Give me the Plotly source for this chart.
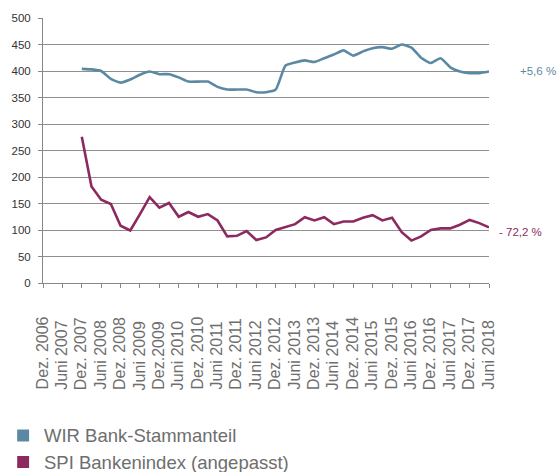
import plotly.graph_objects as go

# Half-yearly category labels (tick positions every 2 quarters, starting Dez. 2006)
tick_labels = ["Dez. 2006", "Juni 2007", "Dez. 2007", "Juni 2008", "Dez. 2008", "Juni 2009",
               "Dez.2009", "Juni 2010", "Dez. 2010", "Juni 2011", "Dez. 2011", "Juni 2012",
               "Dez. 2012", "Juni 2013", "Dez. 2013", "Juni 2014", "Dez. 2014", "Juni 2015",
               "Dez. 2015", "Juni 2016", "Dez. 2016", "Juni 2017", "Dez. 2017", "Juni 2018"]

# Quarterly observations from Dez. 2007 (quarter index 4) to Juni 2018 (quarter index 46)
quarter_index = list(range(4, 47))

wir_values = [404, 403, 400, 385, 378, 384, 393, 399, 394, 394, 388, 380, 380, 380, 370, 365,
              365, 365, 360, 360, 365, 410, 416, 420, 417, 424, 431, 439, 429, 437, 443, 445,
              442, 450, 444, 425, 415, 424, 407, 399, 396, 396, 399]

spi_values = [276, 182, 157, 149, 108, 99, 130, 162, 142, 151, 125, 134, 125, 130, 118, 88,
              89, 98, 81, 86, 100, 106, 111, 124, 118, 124, 111, 116, 116, 123, 128, 118,
              123, 96, 80, 88, 100, 103, 103, 110, 119, 113, 105]

series_names = ["WIR Bank-Stammanteil", "SPI Bankenindex (angepasst)"]
end_labels = ["+5,6 %", "- 72,2 %"]
colors = ["#5b89a3", "#8c2a5f"]

FONT = "Liberation Sans"

fig = go.Figure()
fig.add_trace(go.Scatter(x=quarter_index, y=wir_values, mode="lines", name=series_names[0],
                         line=dict(color=colors[0], width=2.6, shape="spline", smoothing=0.5),
                         showlegend=False, hoverinfo="skip"))
fig.add_trace(go.Scatter(x=quarter_index, y=spi_values, mode="lines", name=series_names[1],
                         line=dict(color=colors[1], width=2.6),
                         showlegend=False, hoverinfo="skip"))

tick_positions = [2 * i for i in range(len(tick_labels))]

annotations = []
# rotated category labels, bottom-aligned like the reference
for pos, lab in zip(tick_positions, tick_labels):
    annotations.append(dict(x=pos, xref="x", y=-0.411, yref="paper", text=lab,
                            textangle=-90, xanchor="center", yanchor="bottom",
                            showarrow=False, xshift=-1,
                            font=dict(family=FONT, size=16, color="#6e6e6e")))

# end-of-line percentage labels
annotations.append(dict(x=1.066, xref="paper", y=wir_values[-1], yref="y", text=end_labels[0],
                        xanchor="left", yanchor="middle", showarrow=False, yshift=1,
                        font=dict(family=FONT, size=11.5, color=colors[0])))
annotations.append(dict(x=1.019, xref="paper", y=spi_values[-1], yref="y", text=end_labels[1],
                        xanchor="left", yanchor="middle", showarrow=False, yshift=-5,
                        font=dict(family=FONT, size=11.5, color=colors[1])))

# legend built from squares + text
legend_y = [435.5, 462]
shapes = []
for name, col, py in zip(series_names, colors, legend_y):
    yp = (283 - py) / 265
    dy = 6 / 265
    shapes.append(dict(type="rect", xref="paper", yref="paper",
                       x0=(14 - 40) / 449, x1=(26 - 40) / 449, y0=yp - dy, y1=yp + dy,
                       fillcolor=col, line=dict(width=0)))
    annotations.append(dict(x=(39 - 40) / 449, xref="paper", y=yp, yref="paper", text=name,
                            xanchor="left", yanchor="middle", showarrow=False,
                            font=dict(family=FONT, size=18.5, color="#6e6e6e")))

fig.update_layout(
    width=559, height=472,
    margin=dict(l=40, r=70, t=18, b=189),
    paper_bgcolor="white", plot_bgcolor="white",
    showlegend=False,
    annotations=annotations,
    shapes=shapes,
    xaxis=dict(range=[0, 46], tickvals=tick_positions, showticklabels=False,
               ticks="outside", ticklen=4, tickcolor="#888888", tickwidth=1,
               showgrid=False, zeroline=False, showline=True, linecolor="#888888", linewidth=1),
    yaxis=dict(range=[0, 500], tickvals=list(range(0, 501, 50)),
               ticks="outside", ticklen=4, tickcolor="#888888", tickwidth=1,
               ticklabelstandoff=5,
               tickfont=dict(family=FONT, size=11.5, color="#333333"),
               showgrid=True, gridcolor="#8f8f8f", gridwidth=1,
               zeroline=False, showline=True, linecolor="#888888", linewidth=1),
)

fig.write_html("out.html",
               config={"displayModeBar": False},
               post_script="document.body.style.margin='0';document.body.style.padding='0';")
